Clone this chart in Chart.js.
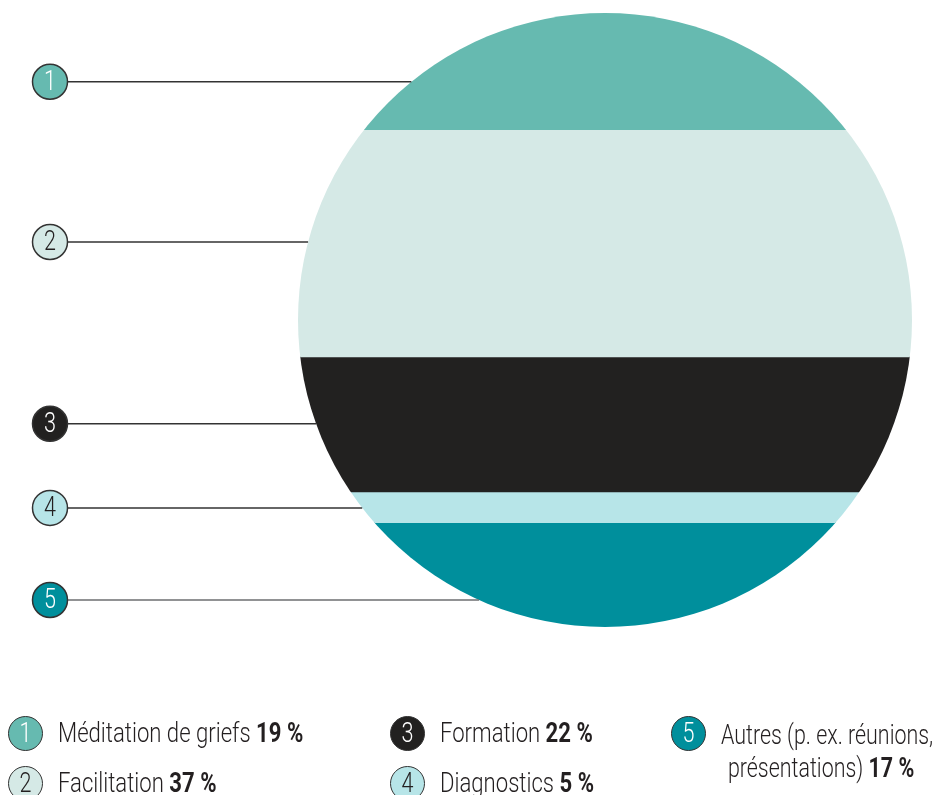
<!DOCTYPE html>
<html lang="fr">
<head>
    <meta charset="UTF-8">
    <title>Répartition des activités</title>
    <script src="https://cdn.jsdelivr.net/npm/chart.js"></script>
    <style>
        body { margin: 0; background: #fff; font-family: Roboto, "DejaVu Sans Condensed", sans-serif; color: #231f20; }
        #wrap { position: relative; width: 938px; height: 795px; overflow: hidden; }
        .item { position: absolute; font-size: 28px; font-weight: 300; line-height: 30px; white-space: nowrap;
                transform: scaleX(0.79); transform-origin: 0 0; }
        .dot { position: absolute; width: 35px; height: 35px; border-radius: 50%; border: 1.5px solid #333;
               box-sizing: border-box; }
        .dot span { display: block; text-align: center; line-height: 32px; font-size: 27px; font-weight: 300;
                    transform: scaleX(0.8); }
        b { font-weight: bold; }
    </style>
</head>
<body>
<div id="wrap">
    <canvas id="chart" width="938" height="795"></canvas>
    <div id="legend"></div>
</div>
<script>
    // Données : part de chaque activité (%)
    const categories = ['Méditation de griefs', 'Facilitation', 'Formation', 'Diagnostics', 'Autres (p. ex. réunions, présentations)'];
    const values = [19, 37, 22, 5, 17];
    const colors = ['#66bab0', '#d5e9e6', '#222120', '#b7e5e8', '#008f9c'];
    const numColors = ['#fff', '#231f20', '#fff', '#231f20', '#fff'];
    // hauteur des traits de rappel (en % cumulés)
    const leaderPos = [11.2, 37.3, 66.9, 80.6, 95.6];

    const datasets = values.map((v, i) => ({
        label: categories[i],
        data: [v],
        backgroundColor: colors[i],
        borderWidth: 0,
        barPercentage: 1,
        categoryPercentage: 1
    }));

    // découpe des barres en cercle
    const circleClip = {
        id: 'circleClip',
        beforeDatasetsDraw(chart) {
            const a = chart.chartArea, ctx = chart.ctx;
            ctx.save();
            ctx.beginPath();
            ctx.arc((a.left + a.right) / 2, (a.top + a.bottom) / 2, (a.right - a.left) / 2, 0, Math.PI * 2);
            ctx.clip();
        },
        afterDatasetsDraw(chart) {
            chart.ctx.restore();
        }
    };

    // traits et pastilles numérotées à gauche
    const leaders = {
        id: 'leaders',
        afterDraw(chart) {
            const a = chart.chartArea, ctx = chart.ctx;
            const cx = (a.left + a.right) / 2, cy = (a.top + a.bottom) / 2, r = (a.right - a.left) / 2;
            leaderPos.forEach((p, i) => {
                const y = chart.scales.y.getPixelForValue(p);
                const xe = cx - Math.sqrt(Math.max(0, r * r - (y - cy) * (y - cy)));
                ctx.save();
                ctx.strokeStyle = i === 4 ? '#6d6e70' : '#333';
                ctx.lineWidth = 1.5;
                ctx.beginPath();
                ctx.moveTo(68, y);
                ctx.lineTo(xe, y);
                ctx.stroke();
                ctx.beginPath();
                ctx.arc(50, y, 17.5, 0, Math.PI * 2);
                ctx.fillStyle = colors[i];
                ctx.fill();
                ctx.strokeStyle = '#333';
                ctx.stroke();
                ctx.fillStyle = numColors[i];
                ctx.font = '300 27px Roboto, sans-serif';
                ctx.textAlign = 'center';
                ctx.textBaseline = 'middle';
                ctx.translate(50, y + 1);
                ctx.scale(0.8, 1);
                ctx.fillText(String(i + 1), 0, 0);
                ctx.restore();
            });
        }
    };

    new Chart(document.getElementById('chart'), {
        type: 'bar',
        data: { labels: [''], datasets: datasets },
        options: {
            responsive: false,
            animation: false,
            layout: { padding: { left: 298, right: 26, top: 13, bottom: 168 } },
            plugins: { legend: { display: false }, tooltip: { enabled: false } },
            scales: {
                x: { stacked: true, display: false },
                y: { stacked: true, display: false, reverse: true, min: 0, max: 100 }
            }
        },
        plugins: [circleClip, leaders]
    });

    // légende en bas
    const legendPos = [[8, 716], [8, 766], [390, 716], [390, 766], [671, 716]];
    const legend = document.getElementById('legend');
    categories.forEach((c, i) => {
        const [x, y] = legendPos[i];
        const dot = document.createElement('div');
        dot.className = 'dot';
        dot.style.left = x + 'px';
        dot.style.top = y + 'px';
        dot.style.background = colors[i];
        dot.style.color = numColors[i];
        dot.innerHTML = '<span>' + (i + 1) + '</span>';
        legend.appendChild(dot);
        const t = document.createElement('div');
        t.className = 'item';
        t.style.left = (x + 50) + 'px';
        t.style.top = (y + 2) + 'px';
        if (i === 4) {
            t.style.lineHeight = '33px';
            t.style.transform = 'scaleX(0.765)';
            t.innerHTML = 'Autres (p. ex. réunions,<br><span style="padding-left:9px">présentations) <b>' + values[i] + ' %</b></span>';
        } else {
            t.innerHTML = c + ' <b>' + values[i] + ' %</b>';
        }
        legend.appendChild(t);
    });
</script>
</body>
</html>
